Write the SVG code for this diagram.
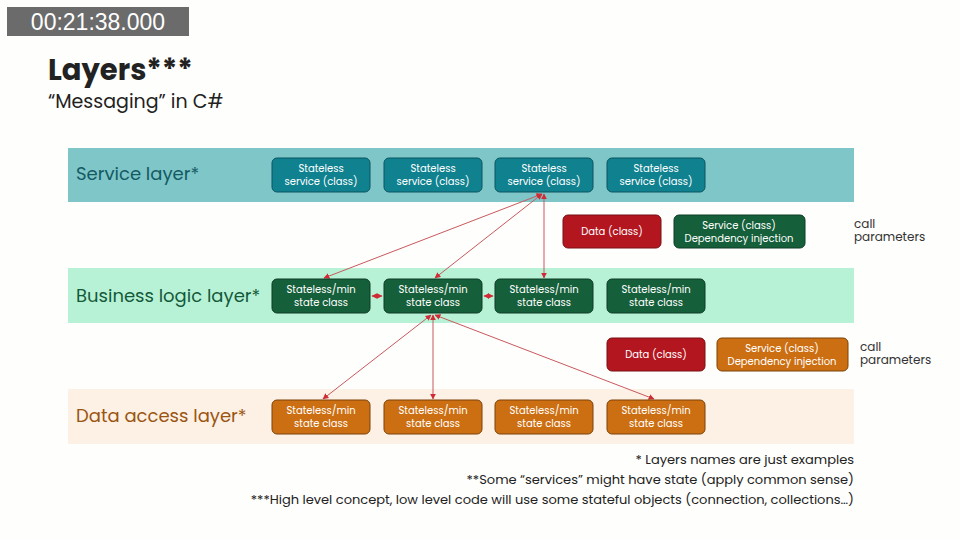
<svg xmlns="http://www.w3.org/2000/svg" width="960" height="540" viewBox="0 0 960 540">
<style>
text{font-family:Poppins,"Noto Sans","Liberation Sans",sans-serif}
.n{font-size:10px;fill:#fff;text-anchor:middle}
.svc{fill:#10828f;stroke:#0b5560;stroke-width:1}
.biz{fill:#15603a;stroke:#0c3d24;stroke-width:1}
.dal{fill:#cc6f12;stroke:#7a4208;stroke-width:1}
.dat{fill:#b3161f;stroke:#7a0e14;stroke-width:1}
.lay{font-size:18px}
.c{stroke:#c9585e;stroke-width:1;fill:none;marker-start:url(#a);marker-end:url(#a)}
.p{font-size:12px;fill:#333}
.f{font-size:13px;fill:#222;text-anchor:end}
</style>
<defs>
<marker id="a" viewBox="0 0 10 10" refX="9" refY="5" markerWidth="6" markerHeight="6" orient="auto-start-reverse"><path d="M0,0L10,5L0,10z" fill="#d02a35"/></marker>
</defs>
<rect width="960" height="540" fill="#fefefc"/>
<rect x="7" y="7" width="182" height="29" fill="#6b6b6b"/>
<text x="98" y="30" font-size="23" fill="#fff" text-anchor="middle" style="font-family:'Liberation Sans',sans-serif">00:21:38.000</text>
<text x="48" y="80" font-size="29" font-weight="bold" fill="#222">Layers***</text>
<text x="48" y="108" font-size="19" fill="#222">“Messaging” in C#</text>

<g id="service-layer"><rect x="68" y="148" width="786" height="54" fill="#7fc6c8"/><text x="76" y="180" class="lay" fill="#145a63">Service layer*</text></g>
<g id="business-layer"><rect x="68" y="268" width="786" height="55" fill="#b8f2d6"/><text x="76" y="302" class="lay" fill="#145a3a">Business logic layer*</text></g>
<g id="data-layer"><rect x="68" y="389" width="786" height="55" fill="#fdf0e4"/><text x="76" y="422" class="lay" fill="#9a5512">Data access layer*</text></g>

<g id="connectors">
<line class="c" x1="542" y1="194" x2="324" y2="278"/>
<line class="c" x1="542" y1="194" x2="435" y2="278"/>
<line class="c" x1="544" y1="194" x2="544" y2="278"/>
<line class="c" x1="372" y1="296" x2="382" y2="296"/>
<line class="c" x1="484" y1="296" x2="493" y2="296"/>
<line class="c" x1="431" y1="315" x2="323" y2="399"/>
<line class="c" x1="433" y1="315" x2="433" y2="399"/>
<line class="c" x1="435" y1="315" x2="654" y2="399"/>
</g>

<g id="s1"><rect class="svc" x="272" y="158" width="98" height="34" rx="5"/><text class="n" x="321" y="172">Stateless</text><text class="n" x="321" y="185">service (class)</text></g>
<g id="s2"><rect class="svc" x="384" y="158" width="98" height="34" rx="5"/><text class="n" x="433" y="172">Stateless</text><text class="n" x="433" y="185">service (class)</text></g>
<g id="s3"><rect class="svc" x="495" y="158" width="98" height="34" rx="5"/><text class="n" x="544" y="172">Stateless</text><text class="n" x="544" y="185">service (class)</text></g>
<g id="s4"><rect class="svc" x="607" y="158" width="98" height="34" rx="5"/><text class="n" x="656" y="172">Stateless</text><text class="n" x="656" y="185">service (class)</text></g>

<g id="b1"><rect class="biz" x="272" y="279" width="98" height="34" rx="5"/><text class="n" x="321" y="293">Stateless/min</text><text class="n" x="321" y="306">state class</text></g>
<g id="b2"><rect class="biz" x="384" y="279" width="98" height="34" rx="5"/><text class="n" x="433" y="293">Stateless/min</text><text class="n" x="433" y="306">state class</text></g>
<g id="b3"><rect class="biz" x="495" y="279" width="98" height="34" rx="5"/><text class="n" x="544" y="293">Stateless/min</text><text class="n" x="544" y="306">state class</text></g>
<g id="b4"><rect class="biz" x="607" y="279" width="98" height="34" rx="5"/><text class="n" x="656" y="293">Stateless/min</text><text class="n" x="656" y="306">state class</text></g>

<g id="d1"><rect class="dal" x="272" y="400" width="98" height="34" rx="5"/><text class="n" x="321" y="414">Stateless/min</text><text class="n" x="321" y="427">state class</text></g>
<g id="d2"><rect class="dal" x="384" y="400" width="98" height="34" rx="5"/><text class="n" x="433" y="414">Stateless/min</text><text class="n" x="433" y="427">state class</text></g>
<g id="d3"><rect class="dal" x="495" y="400" width="98" height="34" rx="5"/><text class="n" x="544" y="414">Stateless/min</text><text class="n" x="544" y="427">state class</text></g>
<g id="d4"><rect class="dal" x="607" y="400" width="98" height="34" rx="5"/><text class="n" x="656" y="414">Stateless/min</text><text class="n" x="656" y="427">state class</text></g>

<g id="p1-data"><rect class="dat" x="563" y="215" width="98" height="33" rx="5"/><text class="n" x="612" y="235">Data (class)</text></g>
<g id="p1-svc"><rect class="biz" x="674" y="215" width="131" height="33" rx="5"/><text class="n" x="739" y="229">Service (class)</text><text class="n" x="739" y="242">Dependency injection</text></g>
<g id="p1-label"><text class="p" x="854" y="228">call</text><text class="p" x="854" y="241">parameters</text></g>

<g id="p2-data"><rect class="dat" x="607" y="338" width="98" height="33" rx="5"/><text class="n" x="656" y="358">Data (class)</text></g>
<g id="p2-svc"><rect class="dal" x="717" y="338" width="131" height="33" rx="5"/><text class="n" x="782" y="352">Service (class)</text><text class="n" x="782" y="365">Dependency injection</text></g>
<g id="p2-label"><text class="p" x="860" y="351">call</text><text class="p" x="860" y="364">parameters</text></g>

<g id="notes">
<text class="f" x="854" y="464">* Layers names are just examples</text>
<text class="f" x="854" y="484">**Some “services” might have state (apply common sense)</text>
<text class="f" x="854" y="504">***High level concept, low level code will use some stateful objects (connection, collections…)</text>
</g>
</svg>
